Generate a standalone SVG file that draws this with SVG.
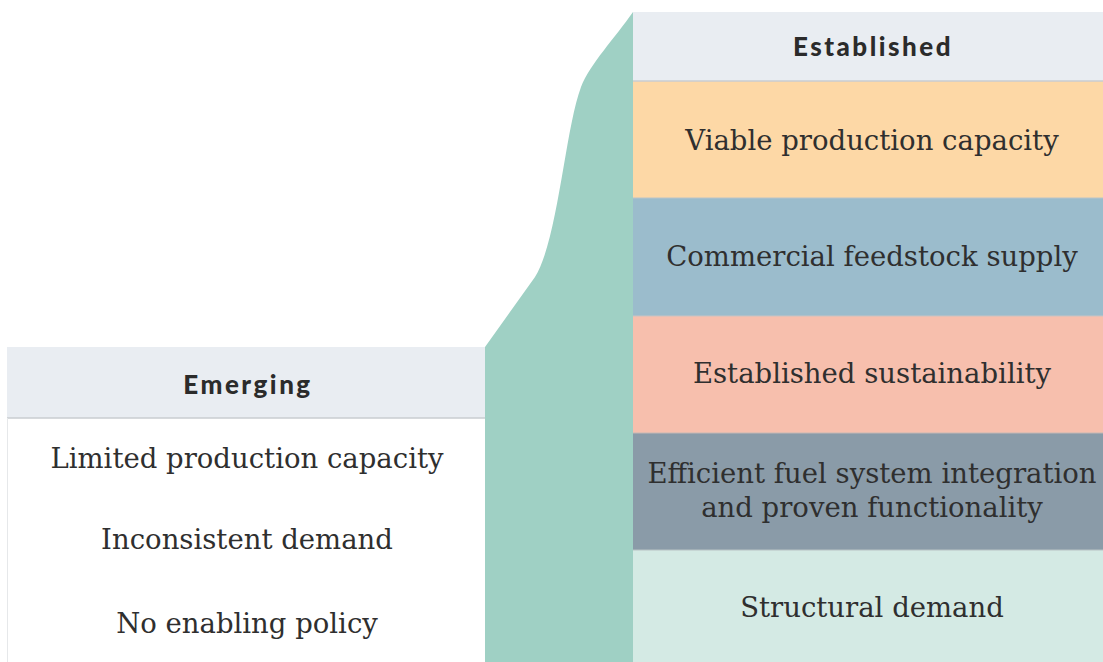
<svg xmlns="http://www.w3.org/2000/svg" width="1103" height="662" viewBox="0 0 1103 662">
  <style>
    .head { font-family: Lato, "Open Sans", sans-serif; font-weight: 900; font-size: 26px; letter-spacing: 2.5px; fill: #2b2b2b; text-anchor: middle; }
    .item { font-family: "DejaVu Serif", "Liberation Serif", serif; font-size: 27.5px; fill: #2f2f2f; text-anchor: middle; }
    .hdr { fill: #e9edf2; }
    .sep { stroke: #c9cdd1; stroke-width: 1.5; }
  </style>
  <rect width="1103" height="662" fill="#ffffff"/>

  <!-- transition band -->
  <g id="band">
    <path d="M485,347 L535,277 C558,240 565,130 581,87 C590,64 615,38 633,12 L633,662 L485,662 Z" fill="#9fd0c4"/>
  </g>

  <!-- emerging column -->
  <g id="emerging">
    <rect x="7" y="347" width="478" height="71" class="hdr"/>
    <rect x="7" y="418" width="478" height="244" fill="#ffffff"/>
    <line x1="7" y1="418" x2="485" y2="418" class="sep"/>
    <line x1="7.5" y1="418" x2="7.5" y2="662" stroke="#e6e8ea" stroke-width="1"/>
    <text x="248" y="394" class="head">Emerging</text>
    <text x="247" y="468" class="item">Limited production capacity</text>
    <text x="247" y="549" class="item">Inconsistent demand</text>
    <text x="247" y="633" class="item">No enabling policy</text>
  </g>

  <!-- established column -->
  <g id="established">
    <rect x="633" y="12" width="470" height="69" class="hdr"/>
    <text x="873" y="56" class="head">Established</text>
  </g>
  <g id="viable">
    <rect x="633" y="81" width="470" height="117" fill="#fdd8a6"/>
    <text x="872" y="150" class="item">Viable production capacity</text>
  </g>
  <g id="feedstock">
    <rect x="633" y="198" width="470" height="118" fill="#9bbccc"/>
    <text x="872" y="266" class="item">Commercial feedstock supply</text>
  </g>
  <g id="sustainability">
    <rect x="633" y="316" width="470" height="117" fill="#f7bfad"/>
    <text x="872" y="383" class="item">Established sustainability</text>
  </g>
  <g id="integration">
    <rect x="633" y="433" width="470" height="117" fill="#8a9ba8"/>
    <text x="872" y="483" class="item">Efficient fuel system integration</text>
    <text x="872" y="517" class="item">and proven functionality</text>
  </g>
  <g id="demand">
    <rect x="633" y="550" width="470" height="112" fill="#d4eae4"/>
    <text x="872" y="617" class="item">Structural demand</text>
  </g>
  <g id="connectors">
    <line x1="633" y1="81" x2="1103" y2="81" class="sep"/>
    <line x1="633" y1="198" x2="1103" y2="198" stroke="#b9c4c9" stroke-width="1"/>
    <line x1="633" y1="316" x2="1103" y2="316" stroke="#c9c4c4" stroke-width="1"/>
    <line x1="633" y1="433" x2="1103" y2="433" stroke="#c4b8b5" stroke-width="1"/>
    <line x1="633" y1="550" x2="1103" y2="550" stroke="#b8c2c4" stroke-width="1"/>
  </g>
</svg>
